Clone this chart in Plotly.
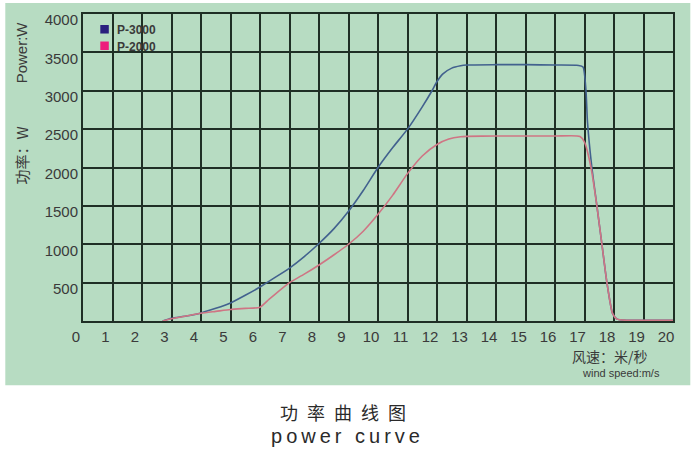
import plotly.graph_objects as go

# Data
p3000_x = [2.7, 3.0, 3.5, 4.0, 4.5, 5.0, 5.5, 6.0, 6.5, 7.0, 7.5, 8.0, 8.5, 9.0, 9.5, 10.0,
           10.5, 11.0, 11.5, 11.83, 12.0, 12.2, 12.5, 12.8, 13.0, 14.0, 15.0, 16.0, 16.8, 16.95,
           17.05, 17.1, 17.25, 17.42, 17.59, 17.76, 17.95, 18.1, 18.4, 20.0]
p3000_y = [0, 35, 65, 105, 165, 235, 335, 443, 565, 690, 840, 1010, 1200, 1430, 1700, 2000,
           2260, 2500, 2790, 3000, 3120, 3220, 3295, 3325, 3335, 3340, 3340, 3335, 3330, 3310,
           3000, 2600, 2000, 1500, 1000, 500, 100, 25, 10, 10]

p2000_x = [2.7, 3.0, 3.5, 4.0, 4.5, 5.0, 5.5, 6.0, 6.3, 6.7, 7.0, 7.5, 8.0, 8.5, 9.0, 9.5,
           10.0, 10.5, 11.0, 11.5, 12.0, 12.4, 12.8, 13.0, 14.0, 15.0, 16.0, 16.85, 17.0,
           17.22, 17.42, 17.59, 17.76, 17.95, 18.1, 18.4, 20.0]
p2000_y = [0, 30, 65, 100, 125, 150, 165, 180, 280, 410, 500, 610, 730, 860, 1000, 1170,
           1390, 1640, 1920, 2150, 2300, 2370, 2400, 2405, 2410, 2410, 2410, 2405, 2330,
           2000, 1500, 1000, 500, 100, 25, 10, 10]

x_ticks = list(range(0, 21))
y_ticks = [500, 1000, 1500, 2000, 2500, 3000, 3500, 4000]

GREEN = "#b7dcc2"
GRID = "#1f2f25"
TXT = "#3a3a3a"

fig = go.Figure()
fig.add_trace(go.Scatter(x=p3000_x, y=p3000_y, mode="lines", name="P-3000",
                         line=dict(color="#42618e", width=1.6, shape="spline", smoothing=0.6)))
fig.add_trace(go.Scatter(x=p2000_x, y=p2000_y, mode="lines", name="P-2000",
                         line=dict(color="#cf7584", width=1.6, shape="spline", smoothing=0.6)))

W, H = 699, 459
L, R, T, B = 82.7, 672.7, 14, 320.7
pw = R - L
ph = B - T


def xp(pxv):
    return (pxv - L) / pw


def yp(pyv):
    return (B - pyv) / ph


fig.update_layout(
    width=W, height=H,
    margin=dict(l=L, r=W - R, t=T, b=H - B, pad=0, autoexpand=False),
    paper_bgcolor="white",
    plot_bgcolor=GREEN,
    showlegend=False,
    font=dict(family="Liberation Sans, Arial, sans-serif", color=TXT),
)

# green panel behind the plot
fig.add_shape(type="rect", xref="paper", yref="paper", layer="below",
              x0=xp(5), x1=xp(690), y0=yp(385), y1=yp(3),
              fillcolor=GREEN, line=dict(width=0))

fig.update_xaxes(range=[0, 20], tickvals=x_ticks, ticktext=[str(v) for v in x_ticks],
                 showgrid=True, gridcolor=GRID, gridwidth=2, zeroline=False,
                 showline=True, linecolor=GRID, linewidth=2, mirror=True,
                 ticks="", ticklabelshift=-7, ticklabelstandoff=1,
                 ticklabeloverflow="allow",
                 tickfont=dict(size=15, color=TXT))
fig.update_yaxes(range=[0, 4000], tickvals=y_ticks, ticktext=[str(v) for v in y_ticks],
                 showgrid=True, gridcolor=GRID, gridwidth=2, zeroline=False,
                 showline=True, linecolor=GRID, linewidth=2, mirror=True,
                 ticks="", ticklabelshift=6, ticklabelstandoff=0,
                 ticklabeloverflow="allow",
                 tickfont=dict(size=15, color=TXT))

# legend (manual)
fig.add_shape(type="rect", xref="paper", yref="paper",
              x0=xp(100), x1=xp(108.5), y0=yp(33.5), y1=yp(25),
              fillcolor="#2a1f7e", line=dict(width=0))
fig.add_shape(type="rect", xref="paper", yref="paper",
              x0=xp(100), x1=xp(108.5), y0=yp(50), y1=yp(41.5),
              fillcolor="#ee1c7c", line=dict(width=0))
fig.add_annotation(xref="paper", yref="paper", x=xp(115), y=yp(29.5), text="<b>P-3000</b>",
                   showarrow=False, xanchor="left", yanchor="middle",
                   font=dict(size=12, color=TXT))
fig.add_annotation(xref="paper", yref="paper", x=xp(115), y=yp(46.5), text="<b>P-2000</b>",
                   showarrow=False, xanchor="left", yanchor="middle",
                   font=dict(size=12, color=TXT))

# y axis titles
fig.add_annotation(xref="paper", yref="paper", x=xp(21), y=yp(52), text="Power:W",
                   textangle=-90, showarrow=False, xanchor="center", yanchor="middle",
                   font=dict(size=15, color=TXT))
fig.add_annotation(xref="paper", yref="paper", x=xp(21), y=yp(155), text="功率：W",
                   textangle=-90, showarrow=False, xanchor="center", yanchor="middle",
                   font=dict(size=15, color=TXT, family="Noto Sans CJK SC"))

# x axis titles
fig.add_annotation(xref="paper", yref="paper", x=xp(610), y=yp(356), text="风速：米/秒",
                   showarrow=False, xanchor="center", yanchor="middle",
                   font=dict(size=14, color=TXT, family="Noto Sans CJK SC"))
fig.add_annotation(xref="paper", yref="paper", x=xp(621), y=yp(373), text="wind speed:m/s",
                   showarrow=False, xanchor="center", yanchor="middle",
                   font=dict(size=11, color=TXT))

# bottom titles
fig.add_annotation(xref="paper", yref="paper", x=xp(343), y=yp(412),
                   text="功\u2002率\u2002曲\u2002线\u2002图",
                   showarrow=False, xanchor="center", yanchor="middle",
                   font=dict(size=18, color="#2a2a2a", family="Noto Sans CJK SC"))
fig.add_annotation(xref="paper", yref="paper", x=xp(345), y=yp(436),
                   text="\u2009".join("power curve"),
                   showarrow=False, xanchor="center", yanchor="middle",
                   font=dict(size=20, color="#2a2a2a"))

fig.write_html("out.html", config={"displayModeBar": False},
               post_script="document.body.style.margin='0';")
